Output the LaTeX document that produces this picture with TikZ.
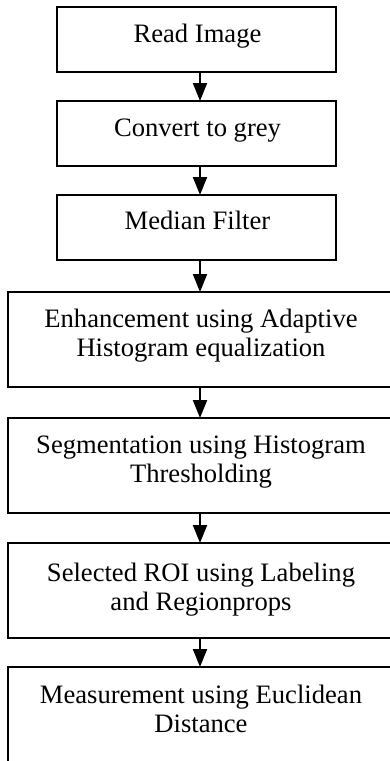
\documentclass[tikz,border=0pt]{standalone}
\usepackage{fontspec}
\setmainfont{Liberation Serif}
\usetikzlibrary{arrows.meta}
\begin{document}
\begin{tikzpicture}[x=1pt,y=-1pt,
  boxs/.style={draw=black,line width=2pt,rectangle,inner sep=0pt},
  txt/.style={inner sep=0pt,align=center,anchor=base,font=\fontsize{26.6}{29}\selectfont},
  arr/.style={line width=2pt,-{Triangle[length=18pt,width=14pt]},shorten >=-1pt}]
\useasboundingbox (0,0) rectangle (390,761);
\clip (0,0) rectangle (390,761);
\node[boxs,minimum width=279pt,minimum height=65pt] (b1) at (196.5,39.5) {};
\node[boxs,minimum width=279pt,minimum height=65pt] (b2) at (196.5,133.5) {};
\node[boxs,minimum width=279pt,minimum height=65pt] (b3) at (196.5,227.5) {};
\node[boxs,minimum width=384pt,minimum height=95pt] (b4) at (200,339.5) {};
\node[boxs,minimum width=384pt,minimum height=95pt] (b5) at (200,465.5) {};
\node[boxs,minimum width=384pt,minimum height=95pt] (b6) at (200,590.5) {};
\node[boxs,minimum width=384pt,minimum height=96pt] (b7) at (200,715) {};
\node[txt] (t1) at (197.5,42) {Read Image};
\node[txt] (t2) at (197.5,136) {Convert to grey};
\node[txt] (t3) at (197.5,229) {Median Filter};
\node[txt] (t4) at (201,356) {Enhancement using Adaptive\\Histogram equalization};
\node[txt] (t5) at (201,482) {Segmentation using Histogram\\Thresholding};
\node[txt] (t6) at (201,610) {Selected ROI using Labeling\\and Regionprops};
\node[txt] (t7) at (201,732) {Measurement using Euclidean\\Distance};
\coordinate (ax) at (200,0);
\draw[arr] (b1.south -| ax) -- (b2.north -| ax);
\draw[arr] (b2.south -| ax) -- (b3.north -| ax);
\draw[arr] (b3.south -| ax) -- (b4.north -| ax);
\draw[arr] (b4.south -| ax) -- (b5.north -| ax);
\draw[arr] (b5.south -| ax) -- (b6.north -| ax);
\draw[arr] (b6.south -| ax) -- (b7.north -| ax);
\end{tikzpicture}
\end{document}
